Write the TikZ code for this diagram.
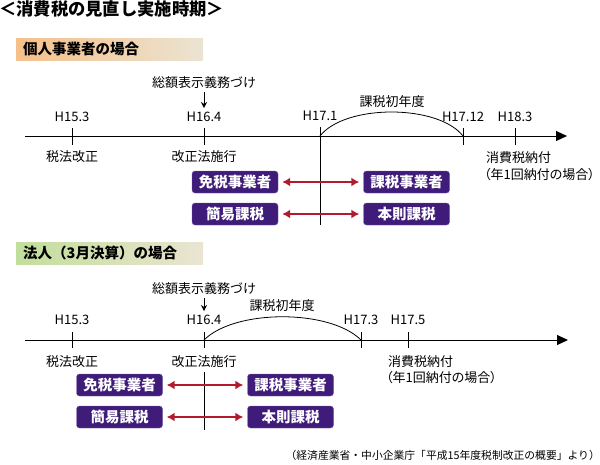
\documentclass[tikz,border=0pt]{standalone}
\usepackage{fontspec}
\setmainfont{Noto Sans CJK JP}
\usetikzlibrary{arrows.meta}
\definecolor{boxpurple}{HTML}{3F1B7A}
\definecolor{arrowred}{HTML}{B01C2C}
\definecolor{headorange}{HTML}{F5C08A}
\definecolor{headgreen}{HTML}{C2DE9C}
\definecolor{headbeige}{HTML}{EBE4D2}
\tikzset{
  taxbox/.style={fill=boxpurple,draw=boxpurple!70,rounded corners=3pt,text=white,
    font=\fontsize{14.5}{14}\selectfont\bfseries,minimum width=86pt,minimum height=22pt,inner sep=0pt},
  swap/.style={arrowred,line width=2pt,{Latex[length=8pt,width=9pt]}-{Latex[length=8pt,width=9pt]},
    shorten >=4pt,shorten <=4pt},
  axis/.style={line width=1pt,-{Triangle[length=11pt,width=10pt]}},
  lbl/.style={font=\fontsize{13}{14}\selectfont,inner sep=0pt},
  note/.style={lbl,anchor=west,font=\fontsize{13}{14}\selectfont\addfontfeatures{RawFeature=+palt}},
  head/.style={font=\fontsize{14.5}{15}\selectfont\bfseries,inner sep=0pt,anchor=west},
  down/.style={line width=0.8pt,-{Stealth[length=6pt,width=6pt]},shorten <=3pt},
}
\begin{document}
\begin{tikzpicture}[x=1pt,y=-1pt,line cap=butt]
\useasboundingbox (0,0) rectangle (600,464);
\node[font=\fontsize{17.3}{17}\selectfont\bfseries,inner sep=0pt,anchor=west] (title) at (-1,9) {＜消費税の見直し実施時期＞};
% 個人事業者
\shade[left color=headorange,right color=headbeige] (16,38) rectangle (203,60);
\node[head] (headA) at (23,49) {個人事業者の場合};
\draw[axis] (25,136) -- (567,136);
\foreach \x/\t in {72/H15.3,204/H16.4,463/H17.12,515/H18.3}{
  \draw[line width=0.8pt] (\x,128) -- (\x,145);
  \node[lbl] at (\x,117) {\t};
}
\draw[line width=0.8pt] (320,127) -- (320,225);
\node[lbl] (h171) at (320,116) {H17.1};
\draw[line width=0.8pt] (320,136) .. controls (345,104) and (438,104) .. (463,136);
\node[lbl] (shoA) at (392,102) {課税初年度};
\node[lbl] (gakuA) at (204,83) {総額表示義務づけ};
\coordinate (gakuAend) at (204,108);
\draw[down] (gakuA) -- (gakuAend);
\node[lbl] (kaiseiA) at (72,157) {税法改正};
\node[lbl] (sekoA) at (204,157) {改正法施行};
\node[lbl,anchor=west] (nofuA) at (486,158) {消費税納付};
\node[note] (nenA) at (484,175) {（年1回納付の場合）};
\node[taxbox] (menA) at (235,182) {免税事業者};
\node[taxbox] (kazA) at (406.5,182) {課税事業者};
\node[taxbox] (kanA) at (235,214) {簡易課税};
\node[taxbox] (honA) at (406.5,214) {本則課税};
\draw[swap] (menA) -- (kazA);
\draw[swap] (kanA) -- (honA);
% 法人（3月決算）
\shade[left color=headgreen,right color=headbeige] (16,242) rectangle (203,264);
\node[head] (headB) at (23,253) {法人（3月決算）の場合};
\draw[axis] (25,340) -- (568,340);
\foreach \x/\t in {72/H15.3,204/H16.4,361/H17.3,408/H17.5}{
  \draw[line width=0.8pt] (\x,332) -- (\x,348);
  \node[lbl] at (\x,320) {\t};
}
\draw[line width=0.8pt] (204,372) -- (204,430);
\draw[line width=0.8pt] (204,340) .. controls (235,309) and (330,309) .. (361,340);
\node[lbl] (shoB) at (282,306) {課税初年度};
\node[lbl] (gakuB) at (204,289) {総額表示義務づけ};
\coordinate (gakuBend) at (204,311);
\draw[down] (gakuB) -- (gakuBend);
\node[lbl] (kaiseiB) at (72,362) {税法改正};
\node[lbl] (sekoB) at (204,362) {改正法施行};
\node[lbl,anchor=west] (nofuB) at (388,362) {消費税納付};
\node[note] (nenB) at (386,378) {（年1回納付の場合）};
\node[taxbox] (menB) at (119.5,385) {免税事業者};
\node[taxbox] (kazB) at (290.5,385) {課税事業者};
\node[taxbox] (kanB) at (119.5,417) {簡易課税};
\node[taxbox] (honB) at (290.5,417) {本則課税};
\draw[swap] (menB) -- (kazB);
\draw[swap] (kanB) -- (honB);
\node[font=\fontsize{10.8}{11}\selectfont,inner sep=0pt,anchor=east] (src) at (600,455) {（経済産業省・中小企業庁「平成15年度税制改正の概要」より）};
\end{tikzpicture}
\end{document}
